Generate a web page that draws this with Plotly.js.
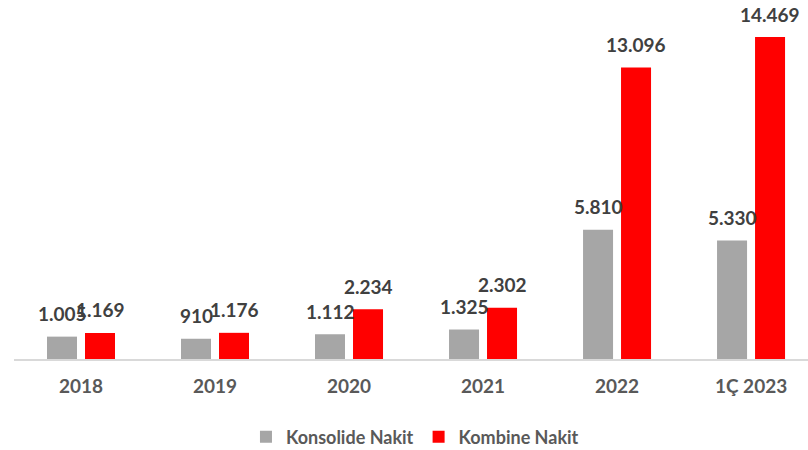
<!DOCTYPE html>
<html>
<head>
<meta charset="utf-8">
<script src="https://cdn.plot.ly/plotly-3.0.1.min.js"></script>
<style>html,body{margin:0;padding:0;background:#fff;}#chart{width:808px;height:450px;}</style>
</head>
<body>
<div id="chart"></div>
<script>
const categories = ["2018", "2019", "2020", "2021", "2022", "1Ç 2023"];
const konsolideNakit = [1005, 910, 1112, 1325, 5810, 5330];
const kombineNakit = [1169, 1176, 2234, 2302, 13096, 14469];
const seriesNames = ["Konsolide Nakit", "Kombine Nakit"];

function fmt(v) {
  return String(v).replace(/\B(?=(\d{3})+(?!\d))/g, ".");
}

const FONT = "Lato, 'Open Sans', sans-serif";
const traces = [
  {type: "bar", name: seriesNames[0], x: categories, y: konsolideNakit,
   marker: {color: "#a6a6a6"}, hoverinfo: "skip"},
  {type: "bar", name: seriesNames[1], x: categories, y: kombineNakit,
   marker: {color: "#ff0000"}, hoverinfo: "skip"}
];

const annotations = [];
[konsolideNakit, kombineNakit].forEach((arr, si) => {
  arr.forEach((v, i) => {
    annotations.push({
      x: i, y: v, xref: "x", yref: "y",
      text: "<b>" + fmt(v) + "</b>", showarrow: false,
      xshift: si === 0 ? -19 : 19, yshift: 23,
      xanchor: "center", yanchor: "middle",
      font: {family: FONT, size: 19, color: "#404040"}
    });
  });
});

const layout = {
  width: 808, height: 450,
  margin: {l: 14, r: 0, t: 20, b: 91, autoexpand: false},
  paper_bgcolor: "#ffffff", plot_bgcolor: "#ffffff",
  barmode: "group", bargap: 0.433, bargroupgap: 0.21,
  showlegend: true,
  legend: {orientation: "h", x: 0.505, xanchor: "center", y: -0.230, yanchor: "middle",
    itemwidth: 30,
    font: {family: FONT, size: 18, color: "#595959", weight: "bold"}},
  xaxis: {type: "category", range: [-0.5, 5.425], showline: true, linecolor: "#d9d9d9", linewidth: 2,
    ticks: "outside", ticklen: 9, tickcolor: "rgba(0,0,0,0)", showgrid: false, zeroline: false,
    tickfont: {family: FONT, size: 19, color: "#595959", weight: "bold"}},
  yaxis: {range: [0, 15233], visible: false, showgrid: false, zeroline: false},
  annotations: annotations
};

Plotly.newPlot("chart", traces, layout, {displayModeBar: false, staticPlot: true});
</script>
</body>
</html>
